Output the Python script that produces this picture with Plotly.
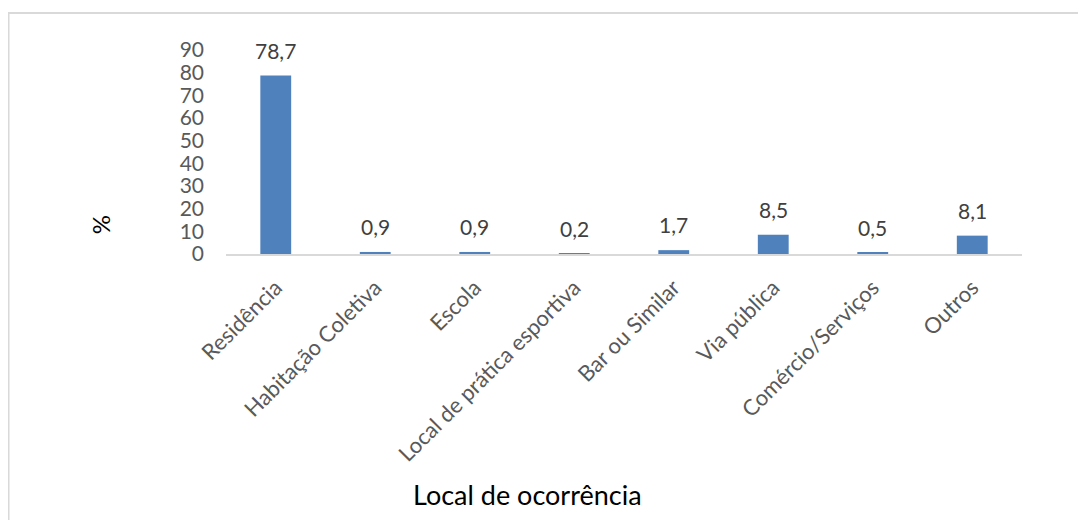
import plotly.graph_objects as go

categorias = ["Residência", "Habitação Coletiva", "Escola", "Local de prática esportiva",
              "Bar ou Similar", "Via pública", "Comércio/Serviços", "Outros"]
percentuais = [78.7, 0.9, 0.9, 0.2, 1.7, 8.5, 0.5, 8.1]
y_ticks = [0, 10, 20, 30, 40, 50, 60, 70, 80, 90]

fonte = "Lato"

fig = go.Figure()
fig.add_trace(go.Bar(
    x=categorias, y=percentuais,
    marker=dict(color="#4f81bd", line=dict(width=0)),
    showlegend=False))

# rótulos de dados acima das barras
for cat, val in zip(categorias, percentuais):
    fig.add_annotation(x=cat, y=val, text=f"{val:.1f}".replace(".", ","),
                       showarrow=False, yanchor="bottom", yshift=11,
                       font=dict(family=fonte, size=21, color="#404040"))

# título do eixo y
fig.add_annotation(xref="paper", yref="paper", x=-0.158, y=0.142, text="%",
                   xanchor="center", yanchor="middle",
                   textangle=-90, showarrow=False,
                   font=dict(family=fonte, size=24, color="black"))
# título do eixo x
fig.add_annotation(xref="paper", yref="paper", x=0.379, y=-1.181,
                   xanchor="center", yanchor="middle",
                   text="Local de ocorrência", showarrow=False,
                   font=dict(family=fonte, size=27, color="black"))

# borda do gráfico
fig.add_shape(type="rect", xref="paper", yref="paper",
              x0=-0.2732, x1=1.2, y0=-1.6, y1=1.181,
              line=dict(color="#d9d9d9", width=2), fillcolor="rgba(0,0,0,0)")

# a página desloca a figura 8px (margem do body), compensado nas margens
fig.update_layout(
    width=1086, height=520,
    margin=dict(l=218, r=72, t=42, b=274),
    plot_bgcolor="white", paper_bgcolor="white",
    bargap=0.69,
    font=dict(family=fonte),
)
fig.update_xaxes(showgrid=False, showline=True, linecolor="#d9d9d9", linewidth=2,
                 tickangle=-45, ticks="", ticklabelstandoff=10,
                 tickfont=dict(family=fonte, size=22, color="#595959"))
fig.update_yaxes(range=[0, 90], tickvals=y_ticks, showgrid=False, zeroline=False,
                 showline=False, ticks="", ticklabelstandoff=21,
                 tickfont=dict(family=fonte, size=21, color="#595959"))

fig.write_html("out.html")
